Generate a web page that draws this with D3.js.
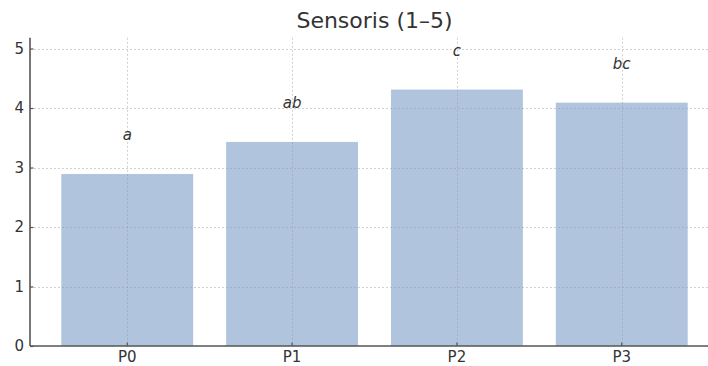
<!DOCTYPE html>
<html>
<head>
<meta charset="utf-8">
<script src="https://cdn.jsdelivr.net/npm/d3@7"></script>
<style>
  html, body { margin: 0; padding: 0; background: #fff; }
  svg { display: block; }
</style>
</head>
<body>
<svg id="chart" width="708" height="366"></svg>
<script>
// Sensory scores (1–5) per product, with significance-group letters
const categories = ["P0", "P1", "P2", "P3"];
const scores = [2.89, 3.43, 4.31, 4.09];
const groupLetters = ["a", "ab", "c", "bc"];
const yTicks = [0, 1, 2, 3, 4, 5];
const title = "Sensoris (1–5)";

const svg = d3.select("#chart");
const font = "'DejaVu Sans', sans-serif";
const textColor = "#333";
const axisColor = "#555";

const plotLeft = 30, plotRight = 719, plotBottom = 346, plotTop = 37.8;

const x = d3.scaleBand()
  .domain(categories)
  .range([plotLeft, plotRight])
  .paddingInner(0.2)
  .paddingOuter(0.19);

const y = d3.scaleLinear()
  .domain([0, 5.18])
  .range([plotBottom, plotTop]);

// Bars
svg.append("g")
  .selectAll("rect")
  .data(categories)
  .join("rect")
  .attr("x", d => x(d))
  .attr("width", x.bandwidth())
  .attr("y", (d, i) => y(scores[i]))
  .attr("height", (d, i) => y(0) - y(scores[i]))
  .attr("fill", "#b0c4de");

// Dotted grid, drawn over the bars
const grid = svg.append("g")
  .attr("stroke", "#9a9a9a")
  .attr("stroke-opacity", 0.45)
  .attr("stroke-width", 1)
  .attr("stroke-dasharray", "2,2");

grid.selectAll("line.h")
  .data(yTicks.filter(t => t > 0))
  .join("line")
  .attr("class", "h")
  .attr("x1", plotLeft).attr("x2", plotRight)
  .attr("y1", d => Math.round(y(d)) + 0.5)
  .attr("y2", d => Math.round(y(d)) + 0.5);

grid.selectAll("line.v")
  .data(categories)
  .join("line")
  .attr("class", "v")
  .attr("x1", d => Math.round(x(d) + x.bandwidth() / 2) + 0.5)
  .attr("x2", d => Math.round(x(d) + x.bandwidth() / 2) + 0.5)
  .attr("y1", plotTop).attr("y2", plotBottom);

// Axes with inward ticks
const yAxis = svg.append("g")
  .attr("transform", `translate(${plotLeft},0)`)
  .call(d3.axisLeft(y).tickValues(yTicks).tickFormat(d3.format("d"))
    .tickSizeInner(-3.5).tickSizeOuter(0).tickPadding(6));

const xAxis = svg.append("g")
  .attr("transform", `translate(0,${plotBottom})`)
  .call(d3.axisBottom(x).tickSizeInner(-3.5).tickSizeOuter(0).tickPadding(5));

[yAxis, xAxis].forEach(g => {
  g.select(".domain").attr("stroke", axisColor).attr("stroke-width", 1.6);
  g.selectAll(".tick line").attr("stroke", axisColor).attr("stroke-width", 1.2);
  g.selectAll(".tick text")
    .attr("fill", textColor)
    .attr("font-family", font)
    .attr("font-size", 15);
});
yAxis.select(".domain").attr("d", `M0,${plotBottom}V${plotTop}`);
xAxis.select(".domain").attr("d", `M${plotLeft},0H${plotRight}`);

// Group letters above bars
svg.append("g")
  .selectAll("text")
  .data(categories)
  .join("text")
  .attr("x", d => x(d) + x.bandwidth() / 2)
  .attr("y", (d, i) => y(scores[i] + 0.57))
  .attr("text-anchor", "middle")
  .attr("font-family", font)
  .attr("font-style", "italic")
  .attr("font-size", 15)
  .attr("fill", textColor)
  .text((d, i) => groupLetters[i]);

// Title
svg.append("text")
  .attr("x", (plotLeft + plotRight) / 2)
  .attr("y", 28)
  .attr("text-anchor", "middle")
  .attr("font-family", font)
  .attr("font-size", 22)
  .attr("fill", textColor)
  .text(title);
</script>
</body>
</html>
